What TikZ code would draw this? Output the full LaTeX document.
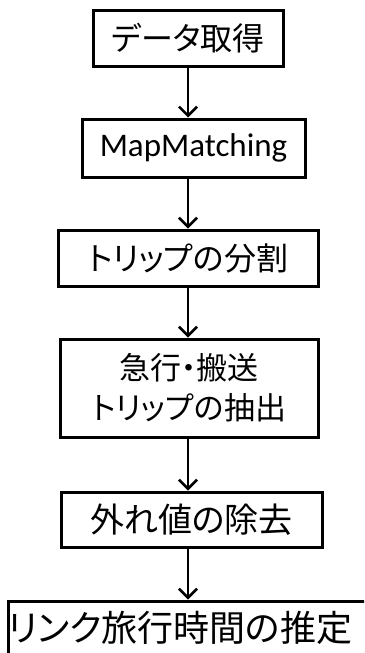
\documentclass[tikz,border=0pt]{standalone}
\usepackage{fontspec}
\setmainfont[RawFeature=+palt]{Noto Sans CJK JP}
\newfontfamily\latinfont{Carlito}
\usetikzlibrary{arrows.meta}
\tikzset{
  stepbox/.style={draw=black, line width=3pt, fill=white, inner sep=0pt, align=center},
  flowarrow/.style={line width=2.6pt, -{Straight Barb[length=9pt,width=18pt,line width=2.6pt]}}
}
\begin{document}
\begin{tikzpicture}[x=1pt,y=-1pt]
\useasboundingbox (0,0) rectangle (364,653);
\clip (0,0) rectangle (364,653);
\node[stepbox, minimum width=190pt, minimum height=56pt, font=\fontsize{32}{38}\selectfont] (b1) at (188,38) {データ取得};
\node[stepbox, minimum width=223pt, minimum height=58pt, font=\latinfont\fontsize{33}{38}\selectfont] (b2) at (193.5,148) {MapMatching};
\node[stepbox, minimum width=260pt, minimum height=56pt, font=\fontsize{32}{36}\selectfont] (b3) at (188,258) {トリップの分割};
\node[stepbox, minimum width=258pt, minimum height=98pt, font=\fontsize{31}{40}\selectfont] (b4) at (189,388) {急行・搬送\\トリップの抽出};
\node[stepbox, minimum width=261pt, minimum height=55pt, font=\fontsize{34}{38}\selectfont] (b5) at (191.5,519.5) {外れ値の除去};
\node[stepbox, minimum width=360pt, minimum height=54pt, font=\fontsize{36}{42}\selectfont] (b6) at (188,628) {\hspace*{-16pt}リンク旅行時間の推定};
\coordinate (ax) at (188,0);
\draw[flowarrow] (ax |- b1.south) -- (ax |- b2.north);
\draw[flowarrow] (ax |- b2.south) -- (ax |- b3.north);
\draw[flowarrow] (ax |- b3.south) -- (ax |- b4.north);
\draw[flowarrow] (ax |- b4.south) -- (ax |- b5.north);
\draw[flowarrow] (ax |- b5.south) -- (ax |- b6.north);
\end{tikzpicture}
\end{document}
